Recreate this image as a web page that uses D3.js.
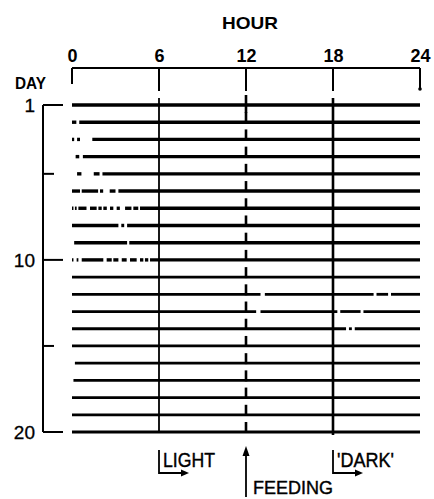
<!DOCTYPE html>
<html>
<head>
<meta charset="utf-8">
<script src="https://cdn.jsdelivr.net/npm/d3@7"></script>
<style>
  html, body { margin: 0; padding: 0; background: #fff; }
  svg { display: block; }
  text { font-family: "Liberation Sans", Arial, sans-serif; fill: #000; }
</style>
</head>
<body>
<svg id="chart" width="434" height="499"></svg>
<script>
// ---- data ----
const hourTicks = [0, 6, 12, 18, 24];
const dayLabels = [1, 10, 20];
const dayMinorTicks = [5, 15];
const days = d3.range(1, 21);
const lightOnHour = 6;
const feedingHour = 12;
const darkOnHour = 18;
// active intervals (hours) for each day
const activity = [
  [[0, 24]],
  [[0, 0.3], [0.5, 24]],
  [[0, 0.15], [0.35, 0.55], [1.4, 24]],
  [[0.25, 0.5], [0.75, 24]],
  [[0.35, 0.65], [1.5, 1.9], [2.1, 24]],
  [[0, 0.55], [0.67, 1.8], [1.93, 2.15], [2.6, 3.0], [3.2, 24]],
  [[0, 0.1], [0.2, 0.32], [0.44, 1.0], [1.24, 1.7], [1.82, 2.05], [2.16, 2.4], [2.62, 2.85], [3.08, 3.3], [3.66, 4.1], [4.23, 4.57], [4.69, 24]],
  [[0, 3.2], [3.4, 3.6], [3.8, 24]],
  [[0.15, 3.8], [3.95, 24]],
  [[0, 0.1], [0.32, 0.44], [0.67, 2.16], [2.39, 2.74], [2.85, 3.2], [3.43, 3.77], [4.0, 4.46], [4.69, 4.92], [5.03, 5.26], [5.38, 24]],
  [[0, 24]],
  [[0, 13.0], [13.3, 20.8], [21.0, 21.8], [22.0, 24]],
  [[0, 12.7], [13.0, 18.3], [18.5, 19.9], [20.1, 24]],
  [[0, 18.9], [19.1, 19.3], [19.5, 24]],
  [[0, 24]],
  [[0.2, 24]],
  [[0.1, 24]],
  [[0, 24]],
  [[0, 24]],
  [[0, 24]]
];

// ---- layout ----
const svg = d3.select("#chart");
const x = d3.scaleLinear().domain([0, 24]).range([72, 420]);
const y = d3.scaleLinear().domain([1, 20]).range([105, 432]);
const axisY = 68;

// title
svg.append("text").attr("x", 250).attr("y", 29).attr("text-anchor", "middle")
  .attr("font-size", 17).attr("font-weight", "bold")
  .attr("textLength", 56).attr("lengthAdjust", "spacingAndGlyphs").text("HOUR");

// top hour axis
const topAxis = d3.axisTop(x).tickValues(hourTicks).tickSize(0).tickPadding(6);
const gAxis = svg.append("g").attr("transform", `translate(0,${axisY})`).call(topAxis);
gAxis.select(".domain").attr("stroke", "#000").attr("stroke-width", 2.2).attr("d", `M${x(0)},0H${x(24)}`);
gAxis.selectAll(".tick text").attr("font-size", 18).attr("font-weight", "bold")
  .attr("font-family", "Liberation Sans, Arial, sans-serif").attr("fill", "#000");

// ticks hanging down from the hour axis
const tickLen = {0: 16, 6: 23, 12: 23, 18: 23, 24: 21};
svg.append("g").selectAll("line").data(hourTicks).join("line")
  .attr("x1", d => x(d)).attr("x2", d => x(d))
  .attr("y1", axisY).attr("y2", d => axisY + tickLen[d])
  .attr("stroke", "#000").attr("stroke-width", 2);
svg.append("circle").attr("cx", x(24)).attr("cy", axisY + 21).attr("r", 1.8).attr("fill", "#000");

// DAY label and bracket
svg.append("text").attr("x", 15).attr("y", 89).attr("font-size", 17).attr("font-weight", "bold")
  .attr("textLength", 31).attr("lengthAdjust", "spacingAndGlyphs").text("DAY");
const bx = 43;
svg.append("line").attr("x1", bx).attr("x2", bx).attr("y1", y(1)).attr("y2", y(20))
  .attr("stroke", "#000").attr("stroke-width", 2);
svg.append("g").selectAll("line").data(dayLabels.concat(dayMinorTicks)).join("line")
  .attr("x1", bx).attr("x2", d => dayLabels.includes(d) ? 63 : 54)
  .attr("y1", d => y(d)).attr("y2", d => y(d))
  .attr("stroke", "#000").attr("stroke-width", 2);
svg.append("g").selectAll("text").data(dayLabels).join("text")
  .attr("x", 35).attr("y", d => y(d) + 7).attr("text-anchor", "end")
  .attr("font-size", 19).text(d => d)
  .attr("stroke", "#000").attr("stroke-width", 0.3);

// LIGHT-on line (solid)
svg.append("line").attr("x1", x(lightOnHour)).attr("x2", x(lightOnHour))
  .attr("y1", y(1) - 7).attr("y2", y(20) + 1).attr("stroke", "#000").attr("stroke-width", 1.8);
// DARK-on line (solid, heavier)
svg.append("line").attr("x1", x(darkOnHour)).attr("x2", x(darkOnHour))
  .attr("y1", y(1) - 7).attr("y2", y(20) + 3).attr("stroke", "#000").attr("stroke-width", 2.6);
// feeding marks (dashes above each day)
svg.append("g").selectAll("line").data(days).join("line")
  .attr("x1", x(feedingHour)).attr("x2", x(feedingHour))
  .attr("y1", d => y(d) - 10).attr("y2", d => y(d) + (d === 1 ? 8 : 1))
  .attr("stroke", "#000").attr("stroke-width", 2.6);

// activity records
const rows = svg.append("g").selectAll("g").data(days).join("g");
rows.selectAll("line").data(d => activity[d - 1].map(s => ({day: d, s}))).join("line")
  .attr("x1", d => x(d.s[0])).attr("x2", d => x(d.s[1]))
  .attr("y1", d => y(d.day)).attr("y2", d => y(d.day))
  .attr("stroke", "#000").attr("stroke-width", d => d.day <= 10 ? 3.4 : 2.8);

// bottom annotations
function bracketArrow(hx, label, tl) {
  const g = svg.append("g");
  const vx = x(hx);
  g.append("path").attr("d", `M${vx},450V473H${vx + 26}`).attr("fill", "none")
    .attr("stroke", "#000").attr("stroke-width", 1.8);
  g.append("path").attr("d", `M${vx + 30},473L${vx + 22},469.5L${vx + 22},476.5Z`).attr("fill", "#000");
  g.append("text").attr("x", vx + 4).attr("y", 467).attr("font-size", 20)
    .attr("textLength", tl).attr("lengthAdjust", "spacingAndGlyphs")
    .attr("stroke", "#000").attr("stroke-width", 0.4).text(label);
}
bracketArrow(lightOnHour, "LIGHT", 52);
bracketArrow(darkOnHour, "'DARK'", 57);

// feeding arrow
const fx = x(feedingHour);
svg.append("line").attr("x1", fx).attr("x2", fx).attr("y1", 454).attr("y2", 497)
  .attr("stroke", "#000").attr("stroke-width", 1.8);
svg.append("path").attr("d", `M${fx},446L${fx - 3.5},456L${fx + 3.5},456Z`).attr("fill", "#000");
svg.append("text").attr("x", fx + 7).attr("y", 494).attr("font-size", 19)
  .attr("textLength", 80).attr("lengthAdjust", "spacingAndGlyphs")
  .attr("stroke", "#000").attr("stroke-width", 0.4).text("FEEDING");
</script>
</body>
</html>
